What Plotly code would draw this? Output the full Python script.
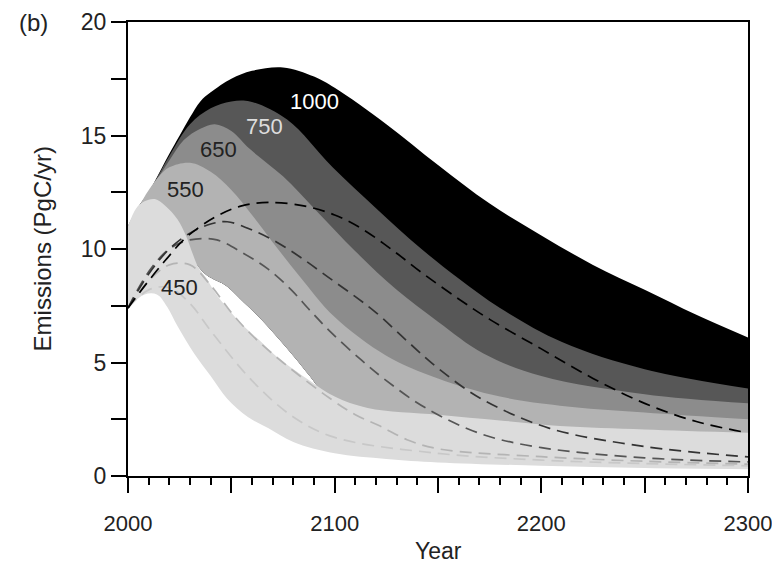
import plotly.graph_objects as go

# ---------------- data ----------------
# Upper edges of the shaded ranges (PgC/yr)
u1000_x = [2000, 2005, 2010, 2020, 2025, 2030, 2035, 2040, 2050, 2060, 2075, 2090, 2100, 2125, 2150, 2175, 2200, 2225, 2250, 2275, 2300]
u1000_y = [11.0, 11.85, 12.5, 14.2, 15.0, 15.8, 16.5, 16.9, 17.5, 17.85, 18.0, 17.6, 17.1, 15.5, 13.7, 12.0, 10.6, 9.3, 8.2, 7.1, 6.1]

u750_x = [2000, 2005, 2010, 2020, 2030, 2040, 2050, 2059, 2077, 2099, 2120, 2142, 2160, 2180, 2210, 2250, 2300]
u750_y = [11.0, 11.85, 12.5, 14.1, 15.5, 16.2, 16.5, 16.5, 15.7, 13.6, 11.8, 10.0, 8.7, 7.4, 5.9, 4.7, 3.85]

u650_x = [2000, 2005, 2010, 2020, 2027, 2035, 2042, 2050, 2059, 2075, 2091, 2110, 2130, 2150, 2172, 2200, 2250, 2300]
u650_y = [11.0, 11.85, 12.5, 13.9, 14.8, 15.3, 15.5, 15.2, 14.4, 13.2, 11.7, 9.9, 8.2, 6.8, 5.4, 4.4, 3.6, 3.2]

u550_x = [2000, 2005, 2008, 2015, 2020, 2030, 2040, 2050, 2060, 2070, 2083, 2100, 2125, 2150, 2180, 2209, 2250, 2300]
u550_y = [11.0, 11.8, 12.3, 13.2, 13.6, 13.8, 13.4, 12.6, 11.5, 10.3, 8.8, 7.0, 5.3, 4.3, 3.5, 3.1, 2.8, 2.5]

u450_x = [2000, 2004, 2008, 2013, 2018, 2024, 2028, 2034, 2038, 2042, 2048, 2056, 2064, 2072, 2080, 2088, 2100, 2116, 2150, 2180, 2209, 2250, 2300]
u450_y = [11.0, 11.8, 12.1, 12.2, 11.9, 11.3, 10.6, 9.2, 8.7, 8.1, 7.4, 6.6, 5.95, 5.25, 4.7, 4.2, 3.5, 3.0, 2.7, 2.45, 2.2, 2.05, 1.9]

# Lower edges
low_x = [2000, 2010, 2020, 2030, 2038, 2048, 2056, 2064, 2072, 2080, 2088, 2094, 2100, 2125, 2150, 2200, 2250, 2300]
low_y = [9.0, 10.0, 10.0, 9.6, 8.85, 8.35, 7.65, 6.95, 6.15, 5.3, 4.4, 3.7, 3.3, 2.6, 2.3, 1.8, 1.5, 1.3]

l450_x = [2000, 2008, 2014, 2019, 2024, 2032, 2040, 2048, 2058, 2068, 2080, 2100, 2125, 2150, 2200, 2250, 2300]
l450_y = [7.4, 8.0, 8.0, 7.45, 6.6, 5.4, 4.4, 3.4, 2.6, 2.1, 1.5, 1.0, 0.75, 0.6, 0.45, 0.35, 0.3]

# Dashed central profiles
d1000_x = [2000, 2010, 2019, 2028, 2042, 2055, 2068, 2085, 2100, 2113, 2128, 2143, 2160, 2175, 2200, 2225, 2250, 2275, 2300]
d1000_y = [7.4, 8.6, 9.6, 10.5, 11.4, 11.9, 12.05, 11.9, 11.5, 10.9, 9.95, 8.9, 7.8, 6.9, 5.6, 4.3, 3.2, 2.4, 1.9]

d750_x = [2000, 2010, 2020, 2030, 2040, 2048, 2061, 2072, 2084, 2097, 2110, 2120, 2135, 2150, 2171, 2204, 2250, 2300]
d750_y = [7.4, 8.9, 10.0, 10.7, 11.1, 11.2, 10.8, 10.3, 9.6, 8.75, 7.9, 7.2, 5.95, 4.75, 3.4, 2.1, 1.3, 0.84]

d650_x = [2000, 2010, 2020, 2030, 2043, 2056, 2068, 2079, 2088, 2098, 2113, 2125, 2144, 2171, 2200, 2250, 2300]
d650_y = [7.4, 9.0, 10.0, 10.4, 10.4, 9.8, 9.1, 8.2, 7.3, 6.35, 5.1, 4.2, 3.0, 1.85, 1.25, 0.8, 0.62]

d550_x = [2000, 2010, 2020, 2030, 2040, 2050, 2060, 2075, 2098, 2110, 2122, 2135, 2150, 2200, 2250, 2300]
d550_y = [7.4, 8.6, 9.3, 9.3, 8.4, 7.2, 6.2, 5.0, 3.4, 2.7, 2.2, 1.6, 1.2, 0.85, 0.65, 0.52]

d450_x = [2000, 2010, 2020, 2030, 2040, 2060, 2080, 2100, 2150, 2200, 2250, 2300]
d450_y = [7.4, 8.2, 8.3, 7.6, 6.4, 4.2, 2.6, 1.7, 1.0, 0.7, 0.55, 0.45]

band_labels = ["1000", "750", "650", "550", "450"]
label_x = [2090, 2066, 2044, 2028, 2025]
label_y = [16.5, 15.4, 14.4, 12.6, 8.3]

x_tickvals = [2000, 2050, 2100, 2150, 2200, 2250, 2300]
x_ticktext = ["2000", "", "2100", "", "2200", "", "2300"]
y_tickvals = [0, 2.5, 5, 7.5, 10, 12.5, 15, 17.5, 20]
y_ticktext = ["0", "", "5", "", "10", "", "15", "", "20"]

# ---------------- figure ----------------
fig = go.Figure()

bands = [
    (low_x, low_y, u1000_x, u1000_y, "#000000"),
    (low_x, low_y, u750_x, u750_y, "#575757"),
    (low_x, low_y, u650_x, u650_y, "#8c8c8c"),
    (low_x, low_y, u550_x, u550_y, "#b3b3b3"),
    (l450_x, l450_y, u450_x, u450_y, "#dcdcdc"),
]
for lx, ly, ux, uy, col in bands:
    fig.add_trace(go.Scatter(x=lx, y=ly, mode="lines", line=dict(width=0, shape="spline", color=col),
                             hoverinfo="skip", showlegend=False))
    fig.add_trace(go.Scatter(x=ux, y=uy, mode="lines", line=dict(width=0, shape="spline", color=col),
                             fill="tonexty", fillcolor=col, hoverinfo="skip", showlegend=False))

dashed = [
    (d450_x, d450_y, "#c8c8c8"),
    (d550_x, d550_y, "#b4b4b4"),
    (d650_x, d650_y, "#555555"),
    (d750_x, d750_y, "#333333"),
    (d1000_x, d1000_y, "#000000"),
]
for dx, dy, col in dashed:
    fig.add_trace(go.Scatter(x=dx, y=dy, mode="lines",
                             line=dict(color=col, width=1.7, dash="12px,7px", shape="spline"),
                             hoverinfo="skip", showlegend=False))

label_colors = ["#ffffff", "#dddddd", "#222222", "#222222", "#222222"]
for t, lx, ly, c in zip(band_labels, label_x, label_y, label_colors):
    fig.add_annotation(x=lx, y=ly, text=t, showarrow=False, font=dict(size=22, color=c),
                       xanchor="center", yanchor="middle")

fig.add_annotation(xref="paper", yref="paper", x=-0.138, y=0.5, text="Emissions (PgC/yr)",
                   textangle=-90, showarrow=False, font=dict(size=24, color="#222"),
                   xanchor="center", yanchor="middle")
fig.add_annotation(xref="paper", yref="paper", x=0.5, y=-0.165, text="Year",
                   showarrow=False, font=dict(size=23, color="#222"), xanchor="center", yanchor="middle")
fig.add_annotation(xref="paper", yref="paper", x=-0.153, y=1.0, text="(b)",
                   showarrow=False, font=dict(size=24, color="#222"), xanchor="center", yanchor="middle")

fig.update_xaxes(range=[2000, 2300], showline=True, linecolor="black", linewidth=2, mirror=True,
                 ticks="outside", ticklen=15, tickwidth=1.5, tickcolor="black",
                 tickvals=x_tickvals, ticktext=x_ticktext, ticklabelstandoff=12, automargin=False,
                 ticklabeloverflow="allow",
                 minor=dict(ticks="outside", dtick=10, tick0=2000, ticklen=7, tickwidth=1.5, tickcolor="black"),
                 showgrid=False, zeroline=False, tickfont=dict(size=22, color="#222"))
fig.update_yaxes(range=[0, 20], showline=True, linecolor="black", linewidth=2, mirror=True,
                 ticks="outside", ticklen=15, tickwidth=1.5, tickcolor="black",
                 tickvals=y_tickvals, ticktext=y_ticktext, automargin=False,
                 showgrid=False, zeroline=False, tickfont=dict(size=23, color="#222"))

fig.update_layout(width=772, height=566, margin=dict(l=128, r=24, t=22, b=90, autoexpand=False),
                  plot_bgcolor="white", paper_bgcolor="white", showlegend=False,
                  font=dict(family="Liberation Sans, Arial, sans-serif", size=23, color="#222"))

# remove the default page margin so the figure fills the window exactly; hide the modebar
fig.write_html("out.html", config={"displayModeBar": False},
               post_script="document.body.style.margin='0';document.body.style.overflow='hidden';")
